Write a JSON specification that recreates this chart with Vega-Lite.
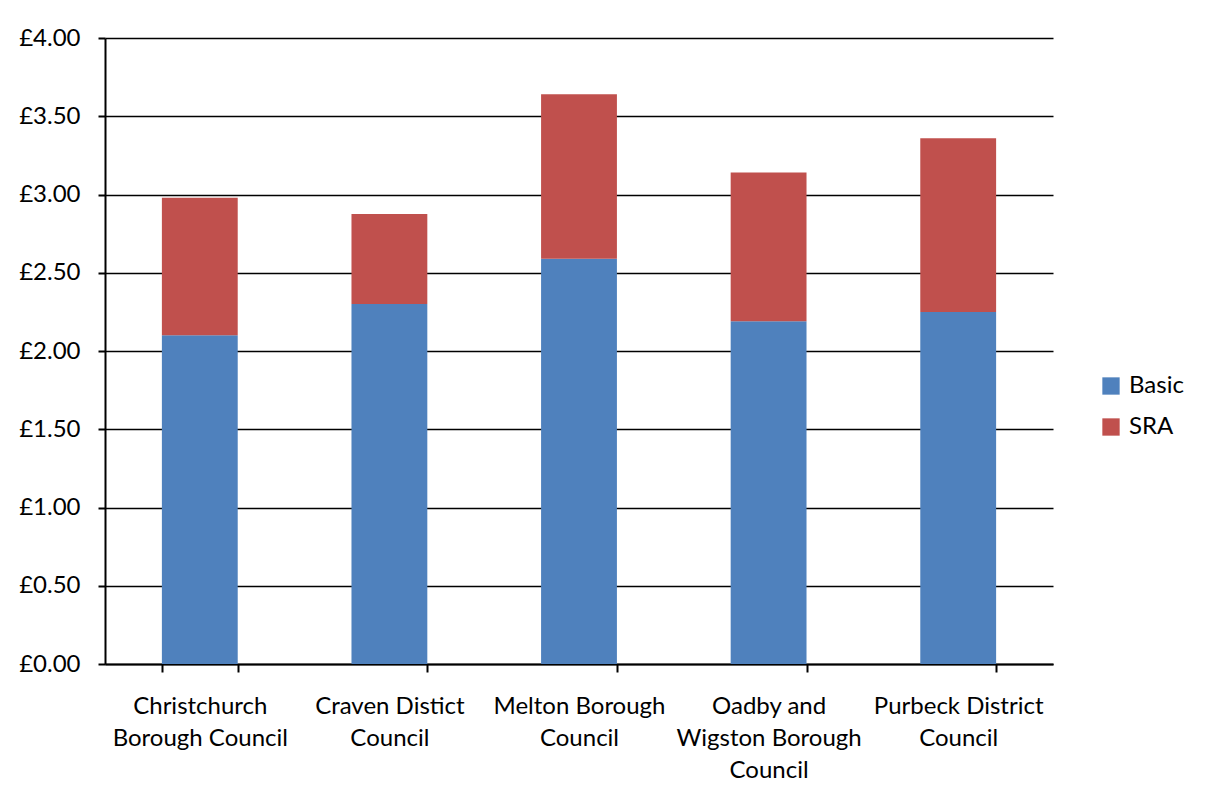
{
  "$schema": "https://vega.github.io/schema/vega-lite/v6.json",
  "autosize": "none",
  "width": 948,
  "height": 626,
  "padding": {"left": 105, "top": 38, "right": 152, "bottom": 124},
  "background": "white",
  "config": {
    "view": {"stroke": null},
    "font": "Lato"
  },
  "data": {
    "values": [
      {"council": "Christchurch|Borough Council", "order": 1, "type": "Basic", "value": 2.10},
      {"council": "Christchurch|Borough Council", "order": 1, "type": "SRA", "value": 0.88},
      {"council": "Craven Distict|Council", "order": 2, "type": "Basic", "value": 2.30},
      {"council": "Craven Distict|Council", "order": 2, "type": "SRA", "value": 0.575},
      {"council": "Melton Borough|Council", "order": 3, "type": "Basic", "value": 2.59},
      {"council": "Melton Borough|Council", "order": 3, "type": "SRA", "value": 1.05},
      {"council": "Oadby and|Wigston Borough|Council", "order": 4, "type": "Basic", "value": 2.19},
      {"council": "Oadby and|Wigston Borough|Council", "order": 4, "type": "SRA", "value": 0.95},
      {"council": "Purbeck District|Council", "order": 5, "type": "Basic", "value": 2.25},
      {"council": "Purbeck District|Council", "order": 5, "type": "SRA", "value": 1.11}
    ]
  },
  "mark": {"type": "bar"},
  "encoding": {
    "x": {
      "field": "council",
      "type": "nominal",
      "sort": {"field": "order"},
      "scale": {"paddingInner": 0.6, "paddingOuter": 0.3},
      "axis": {
        "title": null,
        "labelAngle": 0,
        "labelExpr": "split(datum.label, '|')",
        "labelFont": "Lato",
        "labelFontSize": 24,
        "labelColor": "black",
        "labelLineHeight": 32,
        "labelPadding": 22,
        "labelBaseline": "top",
        "labelLimit": 0,
        "labelOverlap": false,
        "tickBand": "extent",
        "tickSize": 8,
        "tickColor": "black",
        "tickWidth": 2,
        "domainColor": "black",
        "domainWidth": 2,
        "grid": false
      }
    },
    "y": {
      "field": "value",
      "type": "quantitative",
      "aggregate": "sum",
      "stack": "zero",
      "scale": {"domain": [0, 4], "nice": false},
      "axis": {
        "title": null,
        "values": [0, 0.5, 1, 1.5, 2, 2.5, 3, 3.5, 4],
        "labelExpr": "'£' + format(datum.value, '.2f')",
        "labelFont": "Lato",
        "labelFontSize": 24,
        "labelColor": "black",
        "labelPadding": 18,
        "tickSize": 7,
        "tickColor": "black",
        "tickWidth": 2,
        "domainColor": "black",
        "domainWidth": 2,
        "grid": true,
        "gridColor": "black",
        "gridWidth": 1.5,
        "gridOpacity": 1
      }
    },
    "color": {
      "field": "type",
      "type": "nominal",
      "scale": {"domain": ["Basic", "SRA"], "range": ["#4F81BD", "#C0504D"]},
      "legend": {
        "title": null,
        "orient": "none",
        "legendX": 994,
        "legendY": 336,
        "symbolType": "square",
        "symbolSize": 300,
        "symbolStrokeWidth": 0,
        "labelFont": "Lato",
        "labelFontSize": 24,
        "labelColor": "black",
        "rowPadding": 17,
        "labelOffset": 6
      }
    },
    "order": {"field": "type"}
  }
}
